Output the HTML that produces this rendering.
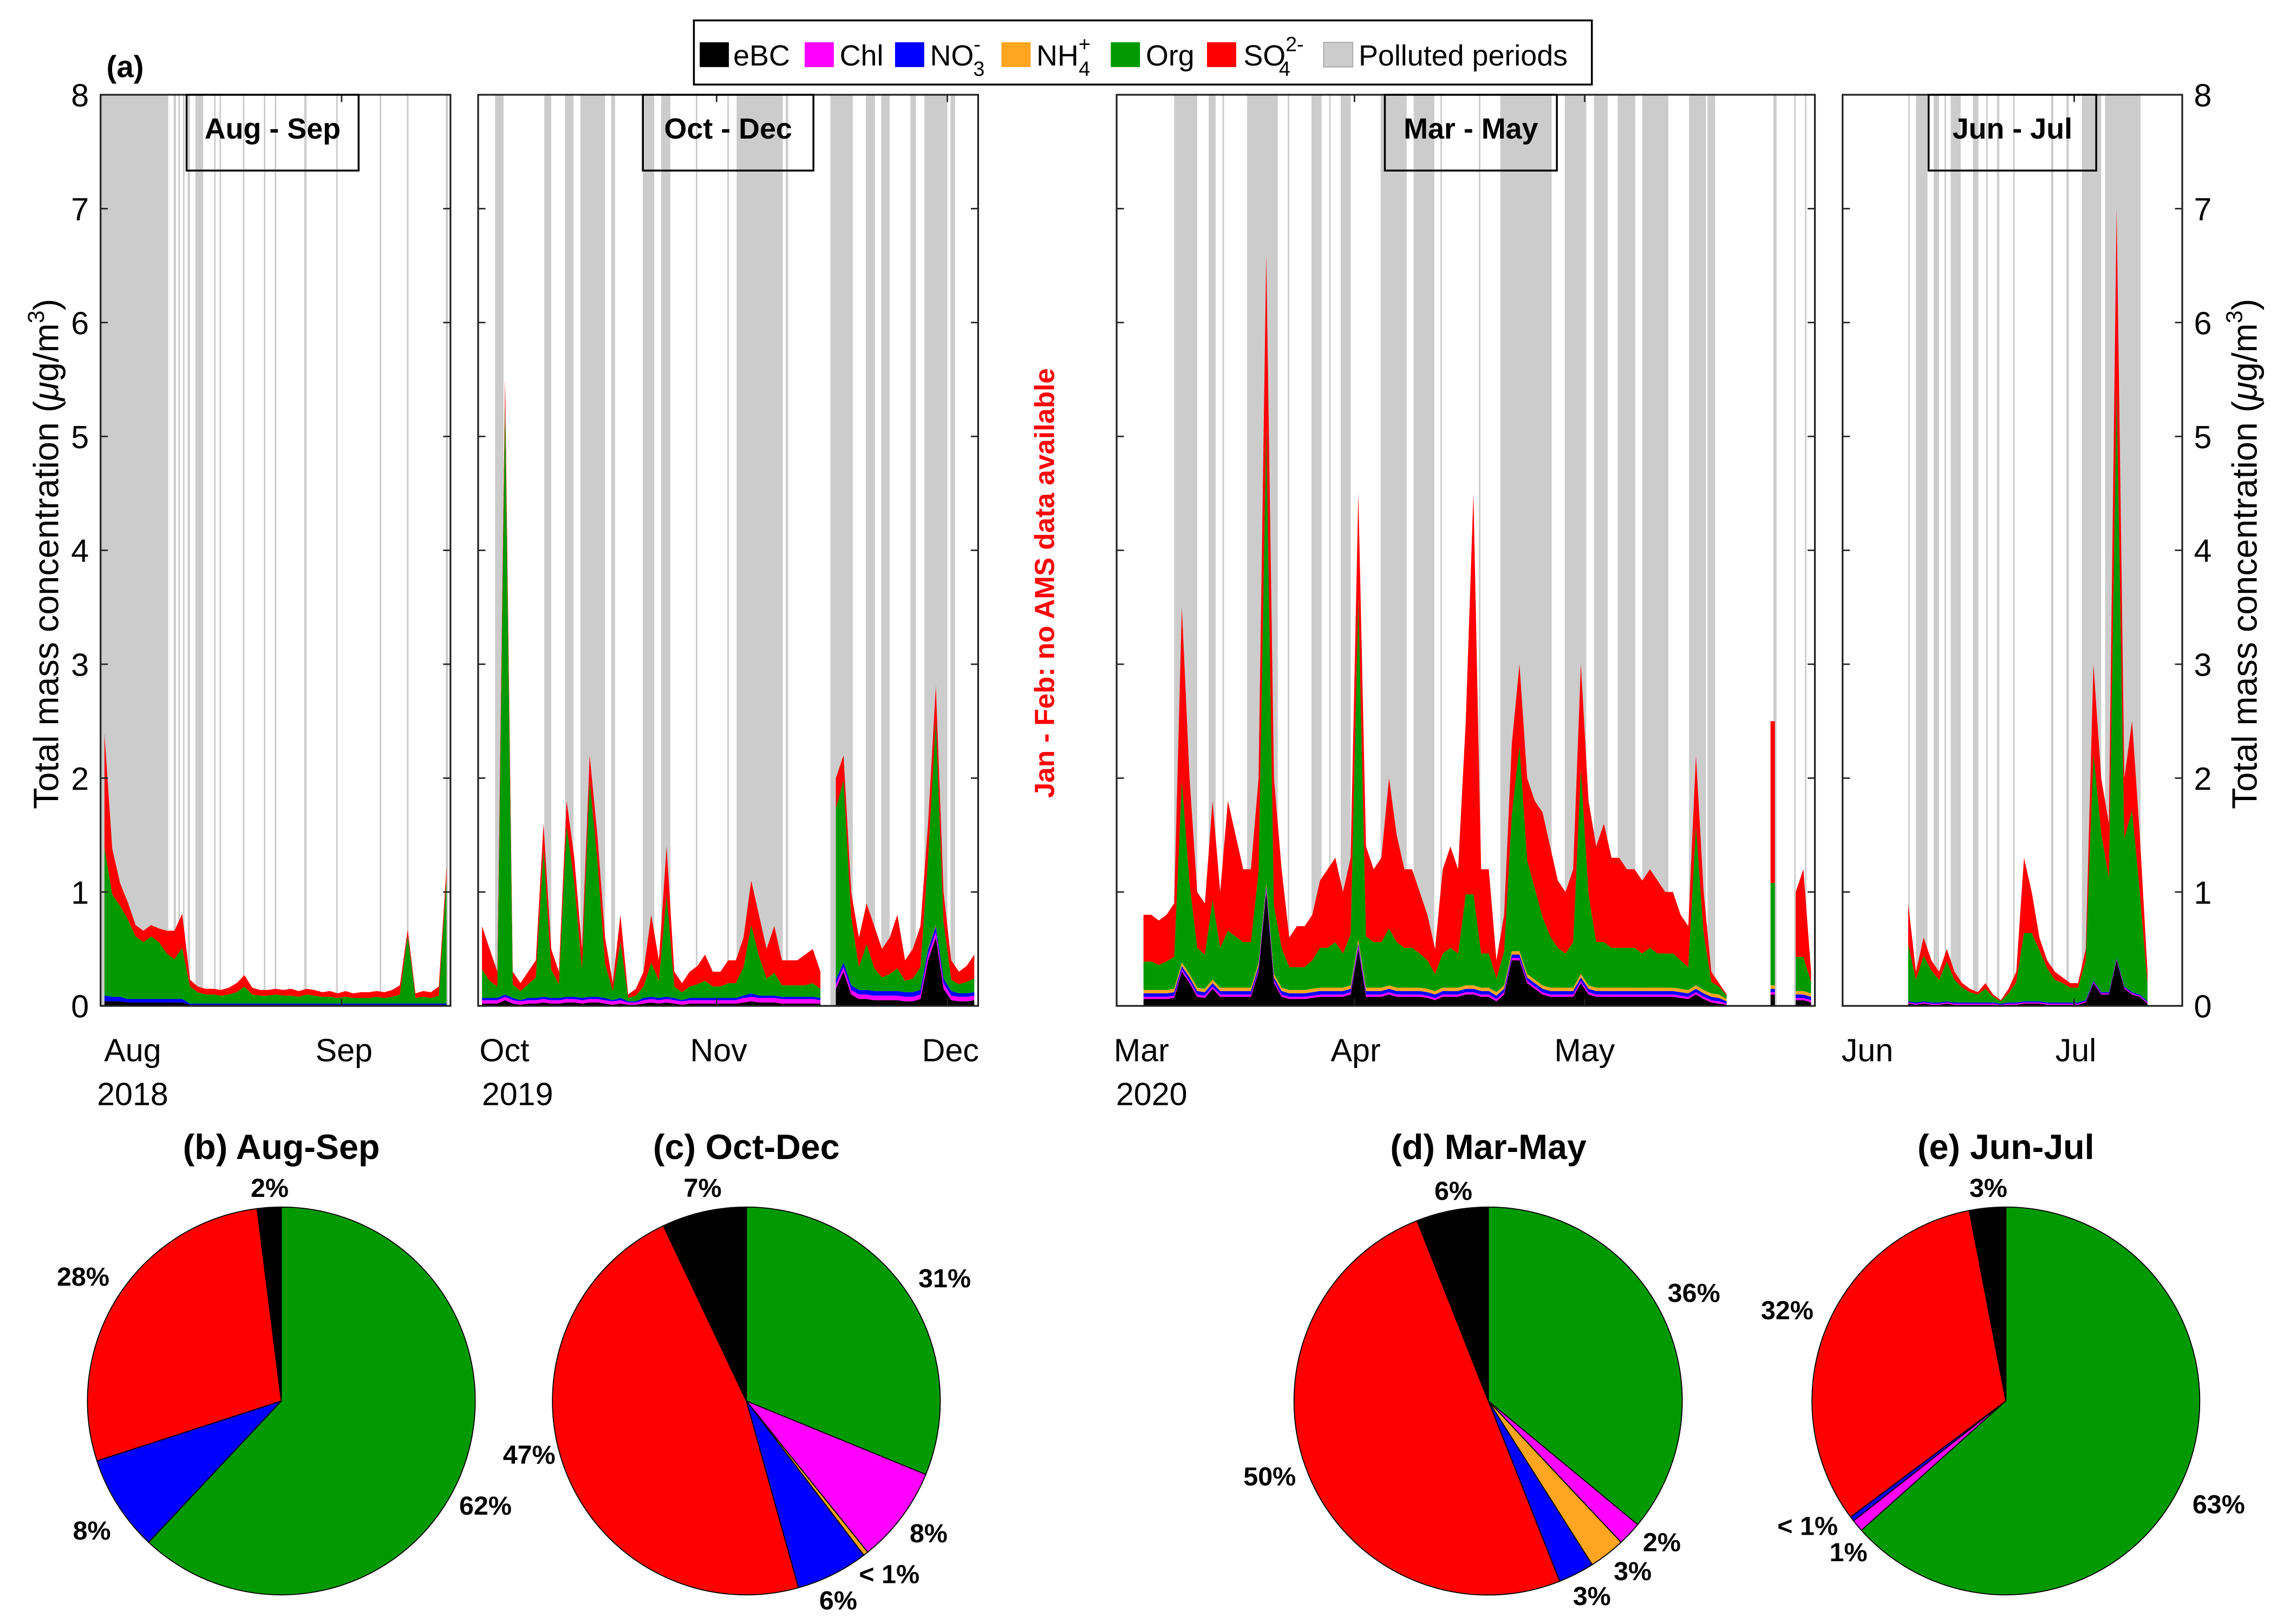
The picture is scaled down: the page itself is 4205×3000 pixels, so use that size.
<!DOCTYPE html>
<html><head><meta charset="utf-8"><style>
html,body{margin:0;padding:0;background:#fff;}
svg{display:block;font-family:"Liberation Sans",Arial,sans-serif;}
</style></head><body>
<svg id="chart" xmlns="http://www.w3.org/2000/svg" width="4205" height="3000" viewBox="0 0 1562 1114" preserveAspectRatio="none">
<rect x="0" y="0" width="1562" height="1114" fill="#fff"/>
<g id="bands"></g><g id="areas"></g><g id="frames"></g>
<text x="73" y="53" font-size="21" font-weight="bold">(a)</text>
<g>
<rect x="476" y="14" width="616" height="44" fill="#fff" stroke="#000" stroke-width="1.3"/>
<rect x="480" y="29" width="20" height="17" fill="#000"/><text x="503" y="45" font-size="20">eBC</text>
<rect x="552" y="29" width="20" height="17" fill="#ff00ff"/><text x="576" y="45" font-size="20">Chl</text>
<rect x="614" y="29" width="20" height="17" fill="#0000ff"/><text x="638" y="45" font-size="20">NO<tspan font-size="14" dy="-10">-</tspan><tspan font-size="14" dx="-5" dy="17">3</tspan></text>
<rect x="687" y="29" width="20" height="17" fill="#ffa520"/><text x="711" y="45" font-size="20">NH<tspan font-size="14" dy="-10">+</tspan><tspan font-size="14" dx="-8" dy="17">4</tspan></text>
<rect x="762" y="29" width="20" height="17" fill="#009a00"/><text x="786" y="45" font-size="20">Org</text>
<rect x="828" y="29" width="20" height="17" fill="#ff0000"/><text x="853" y="45" font-size="20">SO<tspan font-size="14" dy="-10">2-</tspan><tspan font-size="14" dx="-17" dy="17">4</tspan></text>
<rect x="908" y="29" width="20" height="17" fill="#cccccc" stroke="#999" stroke-width="0.5"/><text x="932" y="45" font-size="20">Polluted periods</text>
</g>
<text transform="translate(40,380) rotate(-90)" text-anchor="middle" font-size="24">Total mass concentration (<tspan font-style="italic">μ</tspan>g/m<tspan font-size="16" dy="-10">3</tspan><tspan dy="10">)</tspan></text>
<text transform="translate(1548,380) rotate(-90)" text-anchor="middle" font-size="24">Total mass concentration (<tspan font-style="italic">μ</tspan>g/m<tspan font-size="16" dy="-10">3</tspan><tspan dy="10">)</tspan></text>
<text transform="translate(723,400) rotate(-90)" text-anchor="middle" font-size="19" font-weight="bold" fill="#ff0000">Jan - Feb: no AMS data available</text>
<g id="pies"></g>
</svg>
<script>
// ---------- data ----------
const speciesNames = ['bc','chl','no3','nh4','org','so4'];
const speciesColors = ['#000000','#ff00ff','#0000ff','#ffa520','#009a00','#ff0000'];

// Panel 1: Aug-Sep 2018 (day 0 = Aug 1)
const p1_bc  = [0.04,0.04,0.04,0.03,0.03,0.03,0.03,0.03,0.03,0.03,0.03,0.01,0.01,0.01,0.01,0.01,0.01,0.01,0.01,0.01,0.01,0.01,0.01,0.01,0.01,0.01,0.01,0.01,0.01,0.01,0.01,0.01,0.01,0.01,0.01,0.01,0.01,0.01,0.01,0.01,0.01,0.01,0.01,0.01,0.01];
const p1_chl = [0,0,0,0,0,0,0,0,0,0,0,0,0,0,0,0,0,0,0,0,0,0,0,0,0,0,0,0,0,0,0,0,0,0,0,0,0,0,0,0,0,0,0,0,0];
const p1_no3 = [0.05,0.04,0.04,0.03,0.03,0.03,0.03,0.03,0.03,0.03,0.03,0.01,0.01,0.01,0.01,0.01,0.01,0.01,0.01,0.01,0.01,0.01,0.01,0.01,0.01,0.01,0.01,0.01,0.01,0.01,0.01,0.01,0.01,0.01,0.01,0.01,0.01,0.01,0.01,0.01,0.01,0.01,0.01,0.01,0.01];
const p1_nh4 = [0,0,0,0,0,0,0,0,0,0,0,0,0,0,0,0,0,0,0,0,0,0,0,0,0,0,0,0,0,0,0,0,0,0,0,0,0,0,0,0,0,0,0,0,0];
const p1_org = [1.3,0.9,0.8,0.7,0.55,0.5,0.55,0.5,0.4,0.35,0.45,0.15,0.1,0.08,0.08,0.07,0.08,0.1,0.15,0.08,0.07,0.07,0.08,0.07,0.07,0.06,0.08,0.07,0.06,0.06,0.05,0.06,0.05,0.05,0.05,0.06,0.05,0.06,0.08,0.6,0.05,0.06,0.05,0.07,1.1];
const p1_so4 = [1.0,0.4,0.2,0.15,0.1,0.1,0.1,0.12,0.2,0.25,0.3,0.06,0.05,0.05,0.05,0.05,0.06,0.08,0.1,0.06,0.05,0.05,0.05,0.05,0.06,0.05,0.05,0.05,0.04,0.05,0.04,0.05,0.04,0.05,0.05,0.05,0.05,0.06,0.08,0.05,0.04,0.05,0.05,0.08,0.1];
const p1_polluted = [[0.1,8.7],[9.4,9.7],[10,10.2],[10.6,10.8],[11.2,11.5],[12.2,13.2],[14.6,14.8],[15.3,15.5],[18.3,18.5],[21,21.2],[22.4,22.6],[26.2,26.5],[30.3,30.5],[35.9,36.1],[39.4,39.6],[44.4,44.7]];

// Panel 2: Oct-Dec 2019 (day 0 = Oct 1)
const p2_bc  = [.02,.02,.02,.05,.02,.01,.02,.02,.03,.02,.02,.03,.03,.02,.03,.03,.02,.01,.02,.01,.01,.02,.03,.02,.03,.02,.01,.02,.02,.02,.02,.02,.02,.02,.03,.04,.03,.03,.03,.02,.02,.02,.02,.02,.02,null,.15,.3,.1,.06,.06,.05,.05,.05,.05,.04,.04,.06,.4,.6,.15,.05,.04,.04,.05];
const p2_chl = [.03,.03,.03,.03,.03,.03,.03,.03,.03,.03,.03,.03,.03,.03,.03,.03,.03,.03,.03,.02,.02,.03,.03,.03,.03,.03,.03,.03,.03,.03,.03,.03,.03,.03,.04,.04,.04,.04,.04,.04,.04,.04,.04,.04,.03,null,.04,.04,.04,.04,.04,.04,.04,.04,.04,.04,.04,.04,.05,.05,.05,.04,.04,.04,.04];
const p2_no3 = [.02,.02,.02,.02,.02,.01,.02,.02,.02,.02,.02,.02,.02,.02,.02,.02,.02,.01,.02,.01,.01,.02,.02,.02,.02,.02,.01,.02,.02,.02,.02,.02,.02,.02,.02,.03,.02,.02,.02,.02,.02,.02,.02,.02,.02,null,.04,.04,.04,.04,.04,.04,.04,.04,.04,.04,.04,.04,.05,.05,.04,.04,.03,.03,.03];
const p2_nh4 = [0,0,0,0,0,0,0,0,0,0,0,0,0,0,0,0,0,0,0,0,0,0,0,0,0,0,0,0,0,0,0,0,0,0,0,0,0,0,0,0,0,0,0,0,0,null,0,0,0,0,0,0,0,0,0,0,0,0,0.01,0.01,0,0,0,0,0];
const p2_org = [.25,.15,.1,5.2,.12,.08,.12,.18,1.3,.25,.12,1.5,1.0,.25,1.9,1.2,.3,.08,.5,.03,.05,.1,.3,.15,.9,.1,.07,.1,.12,.15,.1,.1,.13,.13,.25,.6,.35,.15,.2,.1,.1,.1,.1,.12,.08,null,1.5,1.6,.6,.2,.4,.2,.12,.15,.2,.1,.12,.2,.8,1.8,.5,.1,.08,.1,.12];
const p2_so4 = [.38,.28,.13,.2,.11,.07,.11,.15,.22,.18,.11,.22,.22,.18,.22,.22,.23,.07,.23,.03,.06,.13,.42,.18,.42,.13,.08,.13,.16,.23,.13,.13,.2,.2,.26,.39,.36,.26,.41,.22,.22,.22,.27,.3,.15,null,.27,.22,.22,.26,.36,.37,.25,.32,.47,.18,.26,.36,.3,.3,.26,.17,.11,.14,.21];
const p2_polluted = [[2.2,3.3],[8.6,9.5],[11.3,12.4],[13.3,16.5],[17.3,17.8],[21.4,22.9],[23.8,25],[28.3,28.5],[32.4,32.6],[33.6,39.6],[40,40.3],[45.8,48.7],[50.4,51.6],[52.4,53.5],[56.2,56.9],[58,61],[61.4,62]];

// Panel 3: Mar-May 2020 (day 0 = Mar 1)
const p3_bc  = [null,null,null,.06,.06,.06,.06,.07,.3,.2,.08,.07,.15,.08,.08,.08,.08,.08,.3,1.0,.2,.08,.06,.06,.06,.07,.08,.08,.08,.08,.1,.5,.08,.08,.08,.1,.08,.08,.08,.08,.07,.05,.08,.08,.08,.1,.1,.08,.08,.04,.1,.4,.4,.2,.15,.1,.08,.08,.08,.08,.2,.1,.08,.08,.08,.08,.08,.08,.08,.08,.08,.08,.08,.07,.06,.1,.06,.03,.02,.01,null,null,null,null,null,.1,null,null,.05,.05,.03];
const p3_chl = [null,null,null,.02,.02,.02,.02,.02,.02,.02,.02,.02,.02,.02,.02,.02,.02,.02,.02,.02,.02,.02,.02,.02,.02,.02,.02,.02,.02,.02,.02,.02,.02,.02,.02,.02,.02,.02,.02,.02,.02,.02,.02,.02,.02,.02,.02,.02,.02,.02,.02,.02,.02,.02,.02,.02,.02,.02,.02,.02,.02,.02,.02,.02,.02,.02,.02,.02,.02,.02,.02,.02,.02,.02,.02,.02,.02,.02,.02,.01,null,null,null,null,null,.02,null,null,.02,.02,.02];
const p3_no3 = [null,null,null,.03,.03,.03,.03,.03,.03,.03,.03,.03,.03,.03,.03,.03,.03,.03,.03,.03,.03,.03,.03,.03,.03,.03,.03,.03,.03,.03,.03,.03,.03,.03,.03,.03,.03,.03,.03,.03,.03,.03,.03,.03,.03,.03,.03,.03,.03,.03,.03,.03,.03,.03,.03,.03,.03,.03,.03,.03,.03,.03,.03,.03,.03,.03,.03,.03,.03,.03,.03,.03,.03,.03,.03,.03,.03,.03,.03,.02,null,null,null,null,null,.03,null,null,.03,.03,.03];
const p3_nh4 = [null,null,null,.03,.03,.03,.03,.03,.03,.03,.03,.03,.03,.03,.03,.03,.03,.03,.03,.03,.03,.03,.03,.03,.03,.03,.03,.03,.03,.03,.03,.03,.03,.03,.03,.03,.03,.03,.03,.03,.03,.03,.03,.03,.03,.03,.03,.03,.03,.03,.03,.03,.03,.03,.03,.03,.03,.03,.03,.03,.03,.03,.03,.03,.03,.03,.03,.03,.03,.03,.03,.03,.03,.03,.03,.03,.03,.03,.03,.02,null,null,null,null,null,.03,null,null,.03,.03,.03];
const p3_org = [null,null,null,.25,.25,.22,.25,.28,1.6,.8,.35,.3,.7,.35,.5,.45,.4,.4,.8,4.0,.6,.35,.2,.2,.2,.25,.35,.35,.4,.3,.45,3.0,.45,.4,.4,.5,.4,.35,.35,.3,.25,.15,.3,.35,.3,.8,.8,.3,.3,.12,.3,1.2,1.8,1.0,.8,.6,.45,.35,.3,.4,1.8,.8,.4,.4,.35,.35,.35,.35,.3,.35,.3,.3,.3,.25,.2,1.4,.5,.1,.07,.03,null,null,null,null,null,.9,null,null,.3,.3,.1];
const p3_so4 = [null,null,null,.41,.41,.39,.41,.47,1.52,.92,.49,.45,.87,.49,1.14,.89,.64,.64,.82,1.52,1.12,.69,.26,.36,.36,.4,.59,.69,.74,.54,.67,.92,.79,.64,.74,1.32,.94,.69,.69,.54,.4,.22,.74,.89,.74,1.52,3.52,.74,.74,.16,.32,.62,.72,.72,.77,.92,.79,.59,.54,.64,.92,.82,.84,1.04,.79,.79,.69,.69,.64,.69,.64,.54,.54,.4,.36,.62,.36,.09,.03,.01,null,null,null,null,null,1.42,null,null,.57,.77,.09];
const p3_polluted = [[7.5,10.5],[12,12.9],[13.8,14],[17,21],[22.3,22.5],[25.4,26.7],[27.7,27.9],[29.2,30.5],[34.4,37.8],[38.7,41.4],[42.2,42.4],[47.2,47.4],[50,56.7],[58.4,61.2],[62.2,64],[65.3,67.6],[68.5,71.9],[74.6,76.8],[77,78],[85.6,86],[88.3,88.5],[89.7,89.9]];

// Panel 4: Jun-Jul 2020 (day 0 = Jun 1)
const p4_bc  = [null,null,null,null,null,null,null,null,.02,.01,.02,.01,.01,.02,.01,.01,.01,.01,.01,.01,0,.01,.01,.02,.02,.02,.01,.01,.01,.01,.01,.03,.2,.1,.1,.4,.15,.1,.08,.02,null,null,null,null];
const p4_chl = [null,null,null,null,null,null,null,null,.01,.01,.01,.01,.01,.01,.01,.01,.01,.01,.01,.01,.01,.01,.01,.01,.01,.01,.01,.01,.01,.01,.01,.01,.01,.01,.01,.01,.01,.01,.01,.01,null,null,null,null];
const p4_no3 = [null,null,null,null,null,null,null,null,.01,.01,.01,.01,.01,.01,.01,.01,.01,.01,.01,.01,.01,.01,.01,.01,.01,.01,.01,.01,.01,.01,.01,.01,.01,.01,.01,.01,.01,.01,.01,.01,null,null,null,null];
const p4_nh4 = [null,null,null,null,null,null,null,null,0,0,0,0,0,0,0,0,0,0,0,0,0,0,0,0,0,0,0,0,0,0,0,0,0,0,0,0,0,0,0,0,null,null,null,null];
const p4_org = [null,null,null,null,null,null,null,null,.5,.2,.4,.28,.2,.35,.2,.13,.09,.07,.12,.05,.02,.08,.18,.6,.6,.45,.3,.2,.17,.13,.13,.35,2.0,1.4,1.0,5.0,1.3,1.6,.9,.15,null,null,null,null];
const p4_so4 = [null,null,null,null,null,null,null,null,.36,.07,.16,.09,.07,.11,.07,.04,.03,.02,.05,.02,.01,.04,.09,.66,.36,.11,.07,.07,.05,.04,.04,.1,.78,.48,.48,1.58,.53,.78,.5,.11,null,null,null,null];
const p4_polluted = [[8.5,8.7],[9.5,11],[11.8,12.5],[13.2,13.4],[14,15.3],[16.9,17.6],[18.6,18.8],[20,20.3],[22.1,22.3],[27,27.3],[29,29.3],[31,33.5],[34,38.6]];

// Pie charts (percent), order: org, chl, nh4, no3, so4, bc
const pieTitles = ['(b) Aug-Sep','(c) Oct-Dec','(d) Mar-May','(e) Jun-Jul'];
const pieB = [62, 0, 0, 8, 28, 2];
const pieC = [31, 8, 0.4, 6, 47, 7];
const pieD = [36, 2, 3, 3, 50, 6];
const pieE = [63, 1, 0, 0.4, 32, 3];
</script>
<script>
const NS='http://www.w3.org/2000/svg';
function mk(tag,attrs,parent){const e=document.createElementNS(NS,tag);for(const k in attrs)e.setAttribute(k,attrs[k]);parent.appendChild(e);return e;}
const svg=document.getElementById('chart');
const gb=document.getElementById('bands'),ga=document.getElementById('areas'),gf=document.getElementById('frames'),gp=document.getElementById('pies');
const Y0=690,Y8=65;
function yS(v){return Y0-(v/8)*(Y0-Y8);}
const panels=[
 {id:'aug-sep',x0:69,x1:309,days:45,data:[p1_bc,p1_chl,p1_no3,p1_nh4,p1_org,p1_so4],pol:p1_polluted,title:'Aug - Sep',tb:[128,246],months:[[0,'Aug',91,'2018',91],[31,'Sep',236]],mt:[0,31],leftLab:true},
 {id:'oct-dec',x0:328,x1:671,days:65,data:[p2_bc,p2_chl,p2_no3,p2_nh4,p2_org,p2_so4],pol:p2_polluted,title:'Oct - Dec',tb:[441,558],months:[[0,'Oct',346,'2019',355],[31,'Nov',493],[61,'Dec',652]],mt:[0,31,61]},
 {id:'mar-may',x0:766,x1:1245,days:91,data:[p3_bc,p3_chl,p3_no3,p3_nh4,p3_org,p3_so4],pol:p3_polluted,title:'Mar - May',tb:[950,1068],months:[[0,'Mar',783,'2020',790],[31,'Apr',930],[61,'May',1087]],mt:[0,31,61]},
 {id:'jun-jul',x0:1264,x1:1497,days:44,data:[p4_bc,p4_chl,p4_no3,p4_nh4,p4_org,p4_so4],pol:p4_polluted,title:'Jun - Jul',tb:[1323,1438],months:[[0,'Jun',1281],[30,'Jul',1424]],mt:[0,30],rightLab:true}
];
panels.forEach((P,pi)=>{
 const xS=d=>P.x0+d*(P.x1-P.x0)/P.days;
 const cp=mk('clipPath',{id:'clip'+pi},svg);
 mk('rect',{x:P.x0,y:Y8,width:P.x1-P.x0,height:Y0-Y8+1},cp);
 const bg=mk('g',{'clip-path':'url(#clip'+pi+')'},gb);
 
 
 P.pol.forEach(b=>{
  const r=mk('rect',{x:xS(b[0]),y:Y8,width:Math.max(0.6,xS(b[1])-xS(b[0])),height:Y0-Y8,fill:'#cccccc'},bg);
  
  
 });
 const ag=mk('g',{'clip-path':'url(#clip'+pi+')'},ga);
 
 
 const n=P.days;
 let segs=[],cur=null;
 for(let i=0;i<n;i++){const v=P.data[4][i];const ok=v!==null&&v!==undefined;
  if(ok){if(!cur){cur=[];segs.push(cur);}cur.push(i);}else cur=null;}
 segs.forEach(seg=>{
  let base=seg.map(()=>0);
  P.data.forEach((arr,si)=>{
   const top=seg.map((i,k)=>base[k]+(arr[i]||0));
   let pts=[];
   const xs=seg.map(i=>xS(i+0.5));
   if(seg.length===1){
    const xl=[xs[0]-1.5,xs[0]+1.5];
    pts.push([xl[0],yS(top[0])],[xl[1],yS(top[0])],[xl[1],yS(base[0])],[xl[0],yS(base[0])]);
   } else {
    seg.forEach((i,k)=>pts.push([xs[k],yS(top[k])]));
    for(let k=seg.length-1;k>=0;k--)pts.push([xs[k],yS(base[k])]);
   }
   const p=mk('polygon',{points:pts.map(q=>q[0].toFixed(2)+','+q[1].toFixed(2)).join(' '),fill:speciesColors[si]},ag);
   
   
   base=top;
  });
 });
 const fr=mk('rect',{x:P.x0,y:Y8,width:P.x1-P.x0,height:Y0-Y8,fill:'none',stroke:'#222','stroke-width':1.2},gf);
 
 
 for(let v=0;v<=8;v++){
  mk('line',{x1:P.x0,x2:P.x0+5,y1:yS(v),y2:yS(v),stroke:'#222','stroke-width':1},gf);
  mk('line',{x1:P.x1,x2:P.x1-5,y1:yS(v),y2:yS(v),stroke:'#222','stroke-width':1},gf);
  if(P.leftLab){const t=mk('text',{x:P.x0-8,y:yS(v)+8,'text-anchor':'end','font-size':22},gf);t.textContent=v;
   }
  if(P.rightLab){const t=mk('text',{x:P.x1+8,y:yS(v)+8,'text-anchor':'start','font-size':22},gf);t.textContent=v;
   }
 }
 P.mt.forEach(d=>{
  mk('line',{x1:xS(d),x2:xS(d),y1:Y0,y2:Y0-5,stroke:'#222','stroke-width':1},gf);
  mk('line',{x1:xS(d),x2:xS(d),y1:Y8,y2:Y8+5,stroke:'#222','stroke-width':1},gf);
 });
 P.months.forEach(m=>{
  const t=mk('text',{x:m[2],y:728,'text-anchor':'middle','font-size':22},gf);t.textContent=m[1];
  
  if(m[3]){const t2=mk('text',{x:m[4],y:758,'text-anchor':'middle','font-size':22},gf);t2.textContent=m[3];
   }
 });
 const tb=mk('rect',{x:P.tb[0],y:65,width:P.tb[1]-P.tb[0],height:52,fill:'none',stroke:'#000','stroke-width':1.3},gf);
 
 
 const tt=mk('text',{x:(P.tb[0]+P.tb[1])/2,y:95,'text-anchor':'middle','font-size':20,'font-weight':'bold'},gf);
 tt.textContent=P.title;
 
 
});
const pieColors=['#009a00','#ff00ff','#ffa520','#0000ff','#ff0000','#000000'];
const pieData=[pieB,pieC,pieD,pieE];
const pieCx=[193,512,1021,1376];
// label anchor layout (text centres) per pie slice, from the reference
const pieLabelLayout=[
 [[333,1033],null,null,[63,1050],[57,876],[185,815]],
 [[648,877],[637,1052],[610,1080],[575,1098],[363,998],[482,815]],
 [[1162,887],[1140,1058],[1120,1078],[1092,1095],[871,1013],[997,817]],
 [[1522,1032],[1268,1065],null,[1240,1047],[1226,899],[1364,815]]
];
const pieCy=961,R=133;
pieData.forEach((vals,pi)=>{
 const g=mk('g',{},gp);
 
 
 const cx=pieCx[pi];
 const t=mk('text',{x:cx,y:795,'text-anchor':'middle','font-size':24,'font-weight':'bold'},g);
 t.textContent=pieTitles[pi];
 
 
 const tot=vals.reduce((a,b)=>a+b,0);
 let a=0;
 vals.forEach((v,si)=>{
  if(v<=0)return;
  const a1=a+v/tot*2*Math.PI;
  const p0=[cx+R*Math.sin(a),pieCy-R*Math.cos(a)],p1=[cx+R*Math.sin(a1),pieCy-R*Math.cos(a1)];
  const large=(a1-a)>Math.PI?1:0;
  const s=mk('path',{d:`M${cx},${pieCy} L${p0[0].toFixed(2)},${p0[1].toFixed(2)} A${R},${R} 0 ${large} 1 ${p1[0].toFixed(2)},${p1[1].toFixed(2)} Z`,fill:pieColors[si],stroke:'#000','stroke-width':0.7},g);
  
  
  let pos=pieLabelLayout[pi][si];
  if(!pos){const am=(a+a1)/2;pos=[cx+R*1.2*Math.sin(am),pieCy-R*1.2*Math.cos(am)];}
  const lab=mk('text',{x:pos[0],y:pos[1]+6,'text-anchor':'middle','font-size':18,'font-weight':'bold'},g);
  lab.textContent=v<1?'< 1%':Math.round(v)+'%';
  
  
  a=a1;
 });
});
</script>
</body></html>
